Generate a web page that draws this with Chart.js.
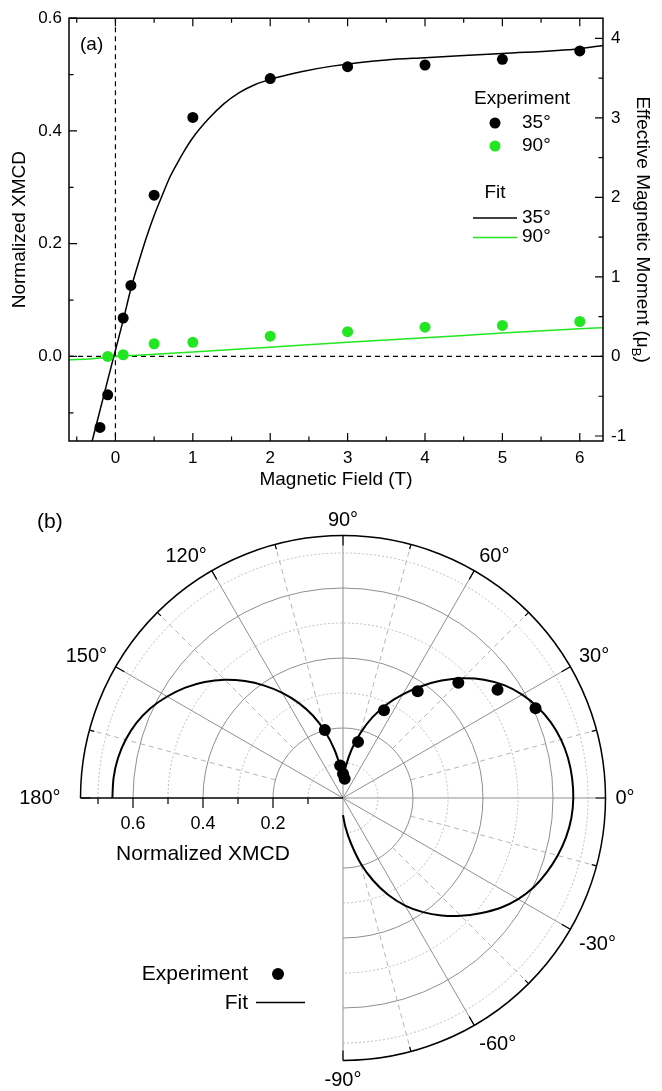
<!DOCTYPE html>
<html>
<head>
<meta charset="utf-8">
<script src="https://cdn.jsdelivr.net/npm/chart.js@4.4.1/dist/chart.umd.min.js"></script>
<style>
    html, body { margin: 0; padding: 0; background: #fff; }
    #cajaA { position: absolute; left: 0; top: 0; }
    #cajaB { position: absolute; left: 0; top: 500px; }
</style>
</head>
<body>
<canvas id="cajaA" width="662" height="500"></canvas>
<canvas id="cajaB" width="662" height="591"></canvas>
<script>
// ---- datos grafico (a): XMCD vs campo magnetico ----
const campo_35 = [-0.2, -0.1, 0.1, 0.2, 0.5, 1, 2, 3, 4, 5, 6];
const xmcd_35 = [-0.126, -0.068, 0.068, 0.126, 0.286, 0.424, 0.493, 0.514, 0.517, 0.527, 0.542];
const campo_90 = [-0.1, 0.1, 0.5, 1, 2, 3, 4, 5, 6];
const xmcd_90 = [0.0, 0.003, 0.0225, 0.025, 0.036, 0.044, 0.052, 0.055, 0.062];

const campo_fit35 = [-0.31, -0.2, -0.1, 0, 0.1, 0.2, 0.3, 0.4, 0.5, 0.6, 0.7, 0.8, 0.9, 1.0, 1.2, 1.4, 1.6, 1.8, 2.0, 2.4, 2.8, 3.5, 4, 5, 6, 6.3];
const fit_35 = [-0.155, -0.096, -0.042, 0.011, 0.064, 0.12, 0.167, 0.211, 0.25, 0.284, 0.317, 0.343, 0.367, 0.388, 0.421, 0.448, 0.468, 0.482, 0.4915, 0.505, 0.515, 0.526, 0.530, 0.5375, 0.546, 0.5517];
const campo_fit90 = [-0.6, -0.3, 0, 0.5, 1, 2, 3, 4, 5, 6, 6.3];
const fit_90 = [-0.006, -0.004, 0.0, 0.004, 0.008, 0.0165, 0.025, 0.033, 0.0415, 0.049, 0.051];

const ticks_campo = [0, 1, 2, 3, 4, 5, 6];
const menores_campo = [-0.5, 0.5, 1.5, 2.5, 3.5, 4.5, 5.5];
const ticks_xmcd = [0.0, 0.2, 0.4, 0.6];
const menores_xmcd = [-0.1, 0.1, 0.3, 0.5];
const ticks_momento = [-1, 0, 1, 2, 3, 4];
const menores_momento = [-0.5, 0.5, 1.5, 2.5, 3.5];

// ---- datos grafico (b): dependencia angular ----
const ang_exp = [25, 35, 45, 55, 65, 75, 85, 90, 95, 105];
const r_exp = [0.607, 0.539, 0.466, 0.372, 0.277, 0.166, 0.055, 0.069, 0.093, 0.201];
const ang_fit = [-90, -85, -80, -75, -70, -65, -60, -55, -50, -45, -40, -35, -30, -25, -20, -15, -10, -5,
    0, 5, 10, 15, 20, 25, 30, 35, 40, 45, 50, 55, 60, 65, 70, 75, 80, 85,
    90, 95, 100, 105, 110, 115, 120, 125, 130, 135, 140, 145, 150, 155, 160, 165, 170, 175, 180];
const r_fit = [0.049, 0.085, 0.132, 0.192, 0.25, 0.305, 0.355, 0.398, 0.438, 0.476, 0.512, 0.548, 0.578, 0.602, 0.62, 0.635, 0.647, 0.655,
    0.658, 0.657, 0.653, 0.645, 0.632, 0.614, 0.591, 0.562, 0.526, 0.484, 0.438, 0.39, 0.342, 0.295, 0.245, 0.192, 0.14, 0.09,
    0.05, 0.088, 0.14, 0.195, 0.25, 0.3, 0.347, 0.392, 0.436, 0.478, 0.516, 0.55, 0.58, 0.607, 0.628, 0.643, 0.653, 0.658, 0.659];

const radios_etiqueta = [0.6, 0.4, 0.2];
const radios_marca = [0.1, 0.2, 0.3, 0.4, 0.5, 0.6, 0.7];
const radios_solidos = [0.2, 0.4, 0.6];
const radios_punteados = [0.1, 0.3, 0.5, 0.7];
const angulos_solidos = [-90, -60, -30, 0, 30, 60, 90, 120, 150];
const angulos_punteados = [-75, -45, -15, 15, 45, 75, 105, 135, 165];
const angulos_etiqueta = [90, 120, 150, 180, 60, 30, 0, -30, -60, -90];
const r_max = 0.75;

// ---- estilos ----
const fuente = '"Liberation Sans", Arial, Helvetica, sans-serif';
const verde = '#22e622';
Chart.defaults.font.family = fuente;
Chart.defaults.color = '#000';

const pares = (xs, ys) => xs.map((x, i) => ({ x: x, y: ys[i] }));
const polar = (angs, rs) => angs.map((a, i) => ({
    x: rs[i] * Math.cos(a * Math.PI / 180),
    y: rs[i] * Math.sin(a * Math.PI / 180)
}));

// ================= grafico (a) =================
const marcoA = {
    id: 'marcoA',
    beforeDatasetsDraw(chart) {
        const { ctx, chartArea: a, scales } = chart;
        const x0 = scales.x.getPixelForValue(0);
        const y0 = scales.y.getPixelForValue(0);
        ctx.save();
        ctx.strokeStyle = '#000';
        ctx.lineWidth = 1.2;
        ctx.setLineDash([5, 4]);
        ctx.beginPath();
        ctx.moveTo(x0, a.top); ctx.lineTo(x0, a.bottom);
        ctx.moveTo(a.left, y0); ctx.lineTo(a.right, y0);
        ctx.stroke();
        ctx.restore();
    },
    afterDraw(chart) {
        const { ctx, chartArea: a, scales } = chart;
        const sx = scales.x, sy = scales.y, sy2 = scales.y2;
        ctx.save();
        ctx.strokeStyle = '#000';
        ctx.lineWidth = 1.5;
        ctx.strokeRect(a.left, a.top, a.right - a.left, a.bottom - a.top);

        // marcas hacia adentro
        ctx.lineWidth = 1.2;
        ctx.beginPath();
        const marcaX = (v, l) => {
            const p = sx.getPixelForValue(v);
            ctx.moveTo(p, a.bottom); ctx.lineTo(p, a.bottom - l);
            ctx.moveTo(p, a.top); ctx.lineTo(p, a.top + l);
        };
        ticks_campo.forEach(v => marcaX(v, 8));
        menores_campo.forEach(v => marcaX(v, 4.5));
        const marcaY = (v, l) => {
            const p = sy.getPixelForValue(v);
            ctx.moveTo(a.left, p); ctx.lineTo(a.left + l, p);
        };
        ticks_xmcd.forEach(v => marcaY(v, 8));
        menores_xmcd.forEach(v => marcaY(v, 4.5));
        const marcaY2 = (v, l) => {
            const p = sy2.getPixelForValue(v);
            ctx.moveTo(a.right, p); ctx.lineTo(a.right - l, p);
        };
        ticks_momento.forEach(v => marcaY2(v, 8));
        menores_momento.forEach(v => marcaY2(v, 4.5));
        ctx.stroke();

        // textos
        ctx.fillStyle = '#000';
        ctx.font = '19px ' + fuente;
        ctx.textBaseline = 'middle';
        ctx.textAlign = 'left';
        ctx.fillText('(a)', 80, 45);

        ctx.textAlign = 'center';
        ctx.fillText('Magnetic Field (T)', (a.left + a.right) / 2, 480);

        ctx.save();
        ctx.translate(20, (a.top + a.bottom) / 2);
        ctx.rotate(-Math.PI / 2);
        ctx.fillText('Normalized XMCD', 0, 0);
        ctx.restore();

        // titulo derecho con subindice
        ctx.save();
        ctx.translate(642, (a.top + a.bottom) / 2);
        ctx.rotate(Math.PI / 2);
        const t1 = 'Effective Magnetic Moment (\u03bc';
        ctx.font = '19px ' + fuente;
        const w1 = ctx.measureText(t1).width;
        const w3 = ctx.measureText(')').width;
        ctx.font = '13px ' + fuente;
        const w2 = ctx.measureText('B').width;
        const xi = -(w1 + w2 + w3) / 2;
        ctx.textAlign = 'left';
        ctx.font = '19px ' + fuente;
        ctx.fillText(t1, xi, 0);
        ctx.fillText(')', xi + w1 + w2, 0);
        ctx.font = '13px ' + fuente;
        ctx.fillText('B', xi + w1, 6);
        ctx.restore();

        // leyenda
        ctx.font = '19px ' + fuente;
        ctx.textAlign = 'center';
        ctx.fillText('Experiment', 522, 99);
        ctx.fillText('Fit', 495, 193);
        ctx.textAlign = 'left';
        ctx.fillText('35\u00b0', 522, 123);
        ctx.fillText('90\u00b0', 522, 146);
        ctx.fillText('35\u00b0', 522, 218);
        ctx.fillText('90\u00b0', 522, 237);
        ctx.fillStyle = '#000';
        ctx.beginPath(); ctx.arc(495, 123, 5.5, 0, 2 * Math.PI); ctx.fill();
        ctx.fillStyle = verde;
        ctx.beginPath(); ctx.arc(495, 146, 5.5, 0, 2 * Math.PI); ctx.fill();
        ctx.lineWidth = 1.5;
        ctx.strokeStyle = '#000';
        ctx.beginPath(); ctx.moveTo(473, 218); ctx.lineTo(517, 218); ctx.stroke();
        ctx.strokeStyle = verde;
        ctx.beginPath(); ctx.moveTo(473, 237.5); ctx.lineTo(517, 237.5); ctx.stroke();
        ctx.restore();
    }
};

const ejeSinGrilla = {
    grid: { display: false, drawTicks: false },
    border: { display: false }
};

new Chart(document.getElementById('cajaA'), {
    type: 'scatter',
    data: {
        datasets: [
            {
                label: 'Experiment 35°', data: pares(campo_35, xmcd_35), order: 0,
                pointRadius: 5.5, backgroundColor: '#000', borderColor: '#000', borderWidth: 0
            },
            {
                label: 'Experiment 90°', data: pares(campo_90, xmcd_90), order: 0,
                pointRadius: 5.5, backgroundColor: verde, borderColor: verde, borderWidth: 0
            },
            {
                label: 'Fit 35°', data: pares(campo_fit35, fit_35), order: 1, showLine: true,
                pointRadius: 0, borderColor: '#000', borderWidth: 1.5, cubicInterpolationMode: 'monotone'
            },
            {
                label: 'Fit 90°', data: pares(campo_fit90, fit_90), order: 1, showLine: true,
                pointRadius: 0, borderColor: verde, borderWidth: 1.5, cubicInterpolationMode: 'monotone'
            }
        ]
    },
    options: {
        responsive: false,
        animation: false,
        layout: { padding: { top: 17, left: 0, right: 0, bottom: 0 } },
        plugins: { legend: { display: false }, tooltip: { enabled: false } },
        scales: {
            x: {
                ...ejeSinGrilla, type: 'linear', position: 'bottom', min: -0.6, max: 6.3,
                afterBuildTicks: s => { s.ticks = ticks_campo.map(v => ({ value: v })); },
                afterFit: s => { s.height = 59; },
                ticks: { font: { size: 17 }, color: '#000', padding: 7, autoSkip: false, maxRotation: 0, callback: v => String(v) }
            },
            y: {
                ...ejeSinGrilla, type: 'linear', position: 'left', min: -0.15, max: 0.6,
                afterBuildTicks: s => { s.ticks = ticks_xmcd.map(v => ({ value: v })); },
                afterFit: s => { s.width = 69; },
                ticks: { font: { size: 17 }, color: '#000', padding: 7, autoSkip: false, callback: v => v.toFixed(1) }
            },
            y2: {
                ...ejeSinGrilla, type: 'linear', position: 'right', min: -1.063, max: 4.254,
                afterBuildTicks: s => { s.ticks = ticks_momento.map(v => ({ value: v })); },
                afterFit: s => { s.width = 59; },
                ticks: { font: { size: 17 }, color: '#000', padding: 8, autoSkip: false, callback: v => String(v) }
            }
        }
    },
    plugins: [marcoA]
});

// ================= grafico (b) =================
const grillaPolar = {
    id: 'grillaPolar',
    beforeDatasetsDraw(chart) {
        const { ctx, scales } = chart;
        const cx = scales.x.getPixelForValue(0);
        const cy = scales.y.getPixelForValue(0);
        const px = v => scales.x.getPixelForValue(v) - cx;
        const R = px(r_max);
        const rad = g => g * Math.PI / 180;
        const radio = (g, r1, r2) => {
            const c = Math.cos(rad(g)), s = Math.sin(rad(g));
            ctx.moveTo(cx + r1 * c, cy - r1 * s);
            ctx.lineTo(cx + r2 * c, cy - r2 * s);
        };
        ctx.save();
        // circulos punteados
        ctx.lineWidth = 1;
        ctx.strokeStyle = '#bdbdbd';
        ctx.setLineDash([2, 2]);
        radios_punteados.forEach(r => {
            ctx.beginPath(); ctx.arc(cx, cy, px(r), -Math.PI, Math.PI / 2); ctx.stroke();
        });
        // radios punteados
        ctx.setLineDash([5, 4]);
        ctx.strokeStyle = '#b5b5b5';
        ctx.beginPath();
        angulos_punteados.forEach(g => radio(g, px(0.2), R));
        ctx.stroke();
        ctx.setLineDash([]);
        // circulos y radios solidos
        ctx.strokeStyle = '#8f8f8f';
        radios_solidos.forEach(r => {
            ctx.beginPath(); ctx.arc(cx, cy, px(r), -Math.PI, Math.PI / 2); ctx.stroke();
        });
        ctx.beginPath();
        angulos_solidos.forEach(g => radio(g, 0, R));
        ctx.stroke();
        // borde exterior y eje 180
        ctx.strokeStyle = '#000';
        ctx.lineWidth = 1.5;
        ctx.beginPath(); ctx.arc(cx, cy, R, -Math.PI, Math.PI / 2); ctx.stroke();
        ctx.beginPath(); ctx.moveTo(cx - R, cy); ctx.lineTo(cx, cy); ctx.stroke();
        // marcas en el borde cada 15 grados
        ctx.lineWidth = 1.2;
        ctx.beginPath();
        for (let g = -90; g <= 180; g += 15) {
            radio(g, R - (g % 30 === 0 ? 10 : 5), R);
        }
        // marcas del eje radial
        radios_marca.forEach(r => {
            const l = radios_etiqueta.includes(r) ? 10 : 6;
            ctx.moveTo(cx - px(r), cy); ctx.lineTo(cx - px(r), cy + l);
        });
        ctx.stroke();
        ctx.restore();
    },
    afterDraw(chart) {
        const { ctx, scales } = chart;
        const cx = scales.x.getPixelForValue(0);
        const cy = scales.y.getPixelForValue(0);
        const px = v => scales.x.getPixelForValue(v) - cx;
        const R = px(r_max);
        const top = chart.canvas.offsetTop;
        ctx.save();
        ctx.fillStyle = '#000';
        // etiquetas angulares
        ctx.font = '20px ' + fuente;
        angulos_etiqueta.forEach(g => {
            const c = Math.cos(g * Math.PI / 180), s = Math.sin(g * Math.PI / 180);
            const sep = g === 180 ? 20 : 10;
            ctx.textAlign = c > 0.2 ? 'left' : (c < -0.2 ? 'right' : 'center');
            ctx.textBaseline = s > 0.2 ? 'alphabetic' : (s < -0.2 ? 'top' : 'middle');
            ctx.fillText(g + '\u00b0', cx + (R + sep) * c, cy - (R + sep) * s);
        });
        // etiquetas radiales
        ctx.font = '18px ' + fuente;
        ctx.textAlign = 'center';
        ctx.textBaseline = 'middle';
        radios_etiqueta.forEach(r => ctx.fillText(r.toFixed(1), cx - px(r), 824 - top));
        ctx.font = '21px ' + fuente;
        ctx.fillText('Normalized XMCD', 203, 854 - top);
        ctx.textAlign = 'left';
        ctx.fillText('(b)', 37, 522 - top);
        // leyenda
        ctx.textAlign = 'right';
        ctx.fillText('Experiment', 248, 974 - top);
        ctx.fillText('Fit', 248, 1003 - top);
        ctx.beginPath(); ctx.arc(278, 974 - top, 6, 0, 2 * Math.PI); ctx.fill();
        ctx.strokeStyle = '#000';
        ctx.lineWidth = 1.5;
        ctx.beginPath(); ctx.moveTo(256, 1002.5 - top); ctx.lineTo(305, 1002.5 - top); ctx.stroke();
        ctx.restore();
    }
};

new Chart(document.getElementById('cajaB'), {
    type: 'scatter',
    data: {
        datasets: [
            {
                label: 'Experiment', data: polar(ang_exp, r_exp), order: 0,
                pointRadius: 6, backgroundColor: '#000', borderColor: '#000', borderWidth: 0
            },
            {
                label: 'Fit', data: polar(ang_fit, r_fit), order: 1, showLine: true,
                pointRadius: 0, borderColor: '#000', borderWidth: 2, tension: 0.3
            }
        ]
    },
    options: {
        responsive: false,
        animation: false,
        layout: { padding: { left: 80.5, right: 56.5, top: 35.5, bottom: 30.5 } },
        plugins: { legend: { display: false }, tooltip: { enabled: false } },
        scales: {
            x: { type: 'linear', display: false, min: -r_max, max: r_max },
            y: { type: 'linear', display: false, min: -r_max, max: r_max }
        }
    },
    plugins: [grillaPolar]
});
</script>
</body>
</html>
